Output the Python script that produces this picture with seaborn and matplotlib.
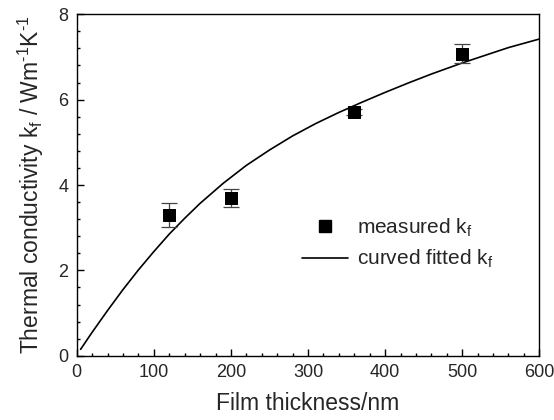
import matplotlib
matplotlib.use("Agg")
import matplotlib.pyplot as plt
from matplotlib.lines import Line2D
from matplotlib.ticker import MultipleLocator
import seaborn as sns
import pandas as pd

# measured data
thickness = [120, 200, 360, 500]
kf_measured = [3.30, 3.70, 5.71, 7.08]
kf_error = [0.28, 0.21, 0.08, 0.22]

# fitted curve, points
fit_x = [5, 20, 40, 60, 80, 100, 120, 140, 160, 190, 220, 250, 280, 310, 340, 360,
         370, 400, 430, 460, 500, 530, 560, 600]
fit_y = [0.15, 0.55, 1.06, 1.55, 2.01, 2.44, 2.85, 3.22, 3.57, 4.04, 4.46, 4.82,
         5.15, 5.44, 5.70, 5.86, 5.94, 6.17, 6.39, 6.60, 6.86, 7.04, 7.22, 7.42]

legend_labels = ["measured k$_\\mathregular{f}$", "curved fitted k$_\\mathregular{f}$"]
x_label = "Film thickness/nm"
y_label = ("Thermal conductivity k$_\\mathregular{f}$ / Wm$^{\\text{-1}}$"
           "K$^{\\text{-1}}$")

sns.set_style("ticks")
plt.rcParams["font.family"] = ["Liberation Sans", "DejaVu Sans"]
plt.rcParams["mathtext.fontset"] = "custom"
plt.rcParams["mathtext.rm"] = "Liberation Sans"
plt.rcParams["mathtext.it"] = "Liberation Sans"
plt.rcParams["mathtext.bf"] = "Liberation Sans"

fig = plt.figure(figsize=(5.54, 4.2), dpi=100)
ax = fig.add_axes([0.1385, 0.153, 0.835, 0.813])

df_meas = pd.DataFrame({"x": thickness, "y": kf_measured})
df_fit = pd.DataFrame({"x": fit_x, "y": fit_y})

sns.lineplot(data=df_fit, x="x", y="y", ax=ax, color="black", lw=1.2, sort=False)
ax.errorbar(thickness, kf_measured, yerr=kf_error, fmt="none", ecolor="#444444",
            elinewidth=0.9, capsize=5.5, capthick=0.9, zorder=2)
sns.scatterplot(data=df_meas, x="x", y="y", ax=ax, marker="s", s=80, color="black",
                edgecolor="black", zorder=3)

ax.set_xlim(0, 600)
ax.set_ylim(0, 8)
ax.xaxis.set_major_locator(MultipleLocator(100))
ax.xaxis.set_minor_locator(MultipleLocator(20))
ax.yaxis.set_major_locator(MultipleLocator(2))
ax.yaxis.set_minor_locator(MultipleLocator(0.4))
ax.tick_params(which="both", direction="in", top=False, right=False, color="black",
               labelsize=13, pad=6)
ax.tick_params(which="major", length=5, width=1)
ax.tick_params(which="minor", length=2.5, width=1)
for sp in ax.spines.values():
    sp.set_color("black")
    sp.set_linewidth(1)

ax.set_xlabel(x_label, fontsize=16.5, labelpad=8)
ax.set_ylabel(y_label, fontsize=16.5, labelpad=9)

handles = [Line2D([], [], marker="s", color="black", ls="none", markersize=9),
           Line2D([], [], color="black", lw=1.2)]
ax.legend(handles, legend_labels, loc="upper left", bbox_to_anchor=(0.488, 0.408),
          frameon=False, fontsize=15, handlelength=2.2, handletextpad=0.4,
          borderpad=0, borderaxespad=0, labelspacing=0.45)

fig.savefig("out.png", dpi=100)
